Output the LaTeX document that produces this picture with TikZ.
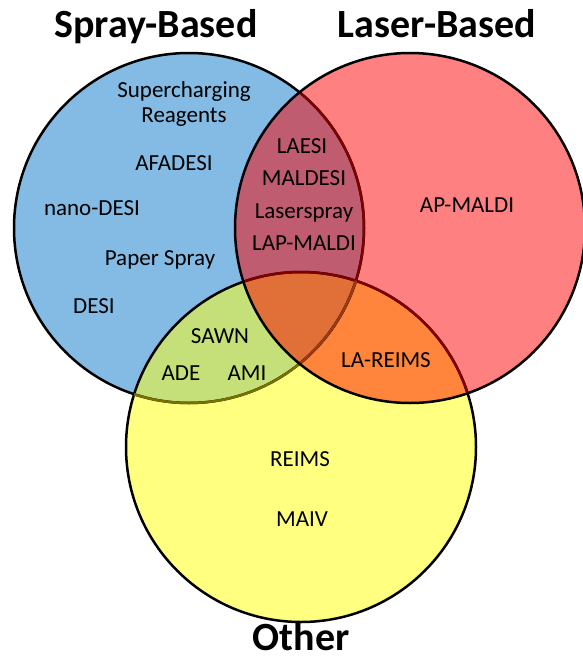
\documentclass[tikz,border=0pt]{standalone}
\usepackage{fontspec}
\setmainfont{Carlito}
\usepackage{xcolor}
\usepackage{tikz}
\definecolor{sprayblue}{RGB}{131,187,228}
\definecolor{laserred}{RGB}{255,128,128}
\definecolor{otheryellow}{RGB}{255,255,128}
\definecolor{bluered}{RGB}{192,92,112}
\definecolor{blueyellow}{RGB}{197,224,120}
\definecolor{redyellow}{RGB}{255,132,60}
\definecolor{allthree}{RGB}{224,112,56}
\definecolor{edgered}{RGB}{128,0,0}
\definecolor{edgeolive}{RGB}{120,112,0}
\definecolor{edgebrown}{RGB}{150,60,20}
\tikzset{lbl/.style={anchor=base,font=\fontsize{23}{27}\selectfont},
  ttl/.style={anchor=base,font=\fontsize{40}{46}\selectfont\bfseries},
  rim/.style={line width=2.5pt}}
\newcommand{\rad}{175}

\begin{document}
\begin{tikzpicture}[x=1pt,y=-1pt]
\useasboundingbox (0,0) rectangle (582,659);
\fill [white] (0,0) rectangle (582,659);

\coordinate (sp) at (189,228);
\coordinate (la) at (410,228);
\coordinate (ot) at (301,447);

% the three sets
\fill [sprayblue] (sp) circle [radius=\rad];
\fill [otheryellow] (ot) circle [radius=\rad];
\fill [laserred] (la) circle [radius=\rad];
\begin{scope}
\clip (sp) circle [radius=\rad];
\fill [bluered] (la) circle [radius=\rad];
\fill [blueyellow] (ot) circle [radius=\rad];
\end{scope}
\begin{scope}
\clip (la) circle [radius=\rad];
\fill [redyellow] (ot) circle [radius=\rad];
\clip (sp) circle [radius=\rad];
\fill [allthree] (ot) circle [radius=\rad];
\end{scope}

% rims
\draw [rim] (sp) circle [radius=\rad];
\draw [rim] (ot) circle [radius=\rad];
\begin{scope}
\clip (ot) circle [radius=\rad];
\draw [rim,edgeolive] (sp) circle [radius=\rad];
\end{scope}
\begin{scope}
\clip (la) circle [radius=\rad];
\draw [rim,edgered] (sp) circle [radius=\rad];
\draw [rim,edgered] (ot) circle [radius=\rad];
\clip (ot) circle [radius=\rad];
\draw [rim,edgebrown] (sp) circle [radius=\rad];
\end{scope}
\draw [rim] (la) circle [radius=\rad];

% titles
\node [ttl] (spray) at (156,37) {Spray-Based};
\node [ttl] (laser) at (437,37) {Laser-Based};
\node [ttl,inner sep=1pt] (other) at (301,650) {Other};

% spray only
\node [lbl] (super) at (184,97) {Supercharging};
\node [lbl] (reag) at (184,122) {Reagents};
\node [lbl] (afadesi) at (174,170) {AFADESI};
\node [lbl] (nano) at (92,215) {nano-DESI};
\node [lbl] (paper) at (160,265) {Paper Spray};
\node [lbl] (desi) at (94,313) {DESI};

% spray and laser
\node [lbl] (laesi) at (302,153) {LAESI};
\node [lbl] (maldesi) at (304,185) {MALDESI};
\node [lbl] (lspray) at (304,218) {Laserspray};
\node [lbl] (lapmaldi) at (304,250) {LAP-MALDI};

% laser only
\node [lbl] (apmaldi) at (467,212) {AP-MALDI};

% spray and other
\node [lbl] (sawn) at (220,343) {SAWN};
\node [lbl] (ade) at (181,380) {ADE};
\node [lbl] (ami) at (247,380) {AMI};

% laser and other
\node [lbl] (lareims) at (386,367) {LA-REIMS};

% other only
\node [lbl] (reims) at (300,466) {REIMS};
\node [lbl] (maiv) at (302,526) {MAIV};
\end{tikzpicture}
\end{document}
